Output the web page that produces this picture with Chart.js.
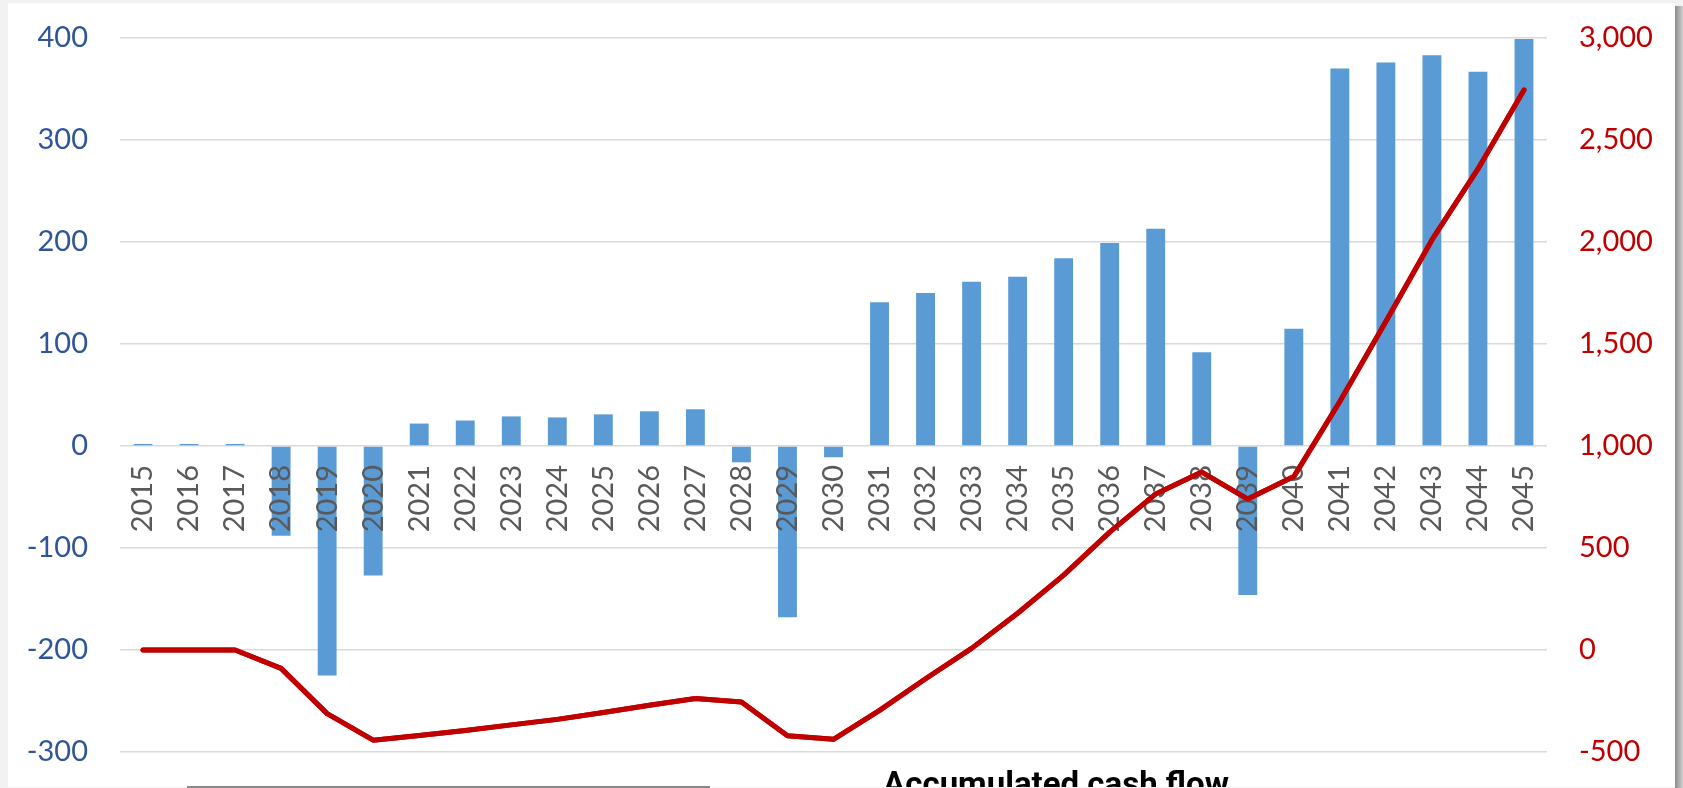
<!DOCTYPE html>
<html>
<head>
<meta charset="utf-8">
<script src="https://cdn.jsdelivr.net/npm/chart.js@4.4.1/dist/chart.umd.min.js"></script>
<style>
  html, body { margin: 0; padding: 0; background: #f2f2f2; width: 1683px; height: 788px; overflow: hidden; }
  #wrap { position: absolute; left: 8px; top: 3px; width: 1667px; height: 784px; background: #fff; }
  #shade { position: absolute; left: 1675px; top: 6px; width: 8px; height: 782px;
           background: linear-gradient(to right, #8c8c8c, #d0d0d0); }
  #baseline { position: absolute; left: 187px; top: 786px; width: 523px; height: 2px; background: #8a8a8a; }
</style>
</head>
<body>
<div id="wrap"><canvas id="grafico"></canvas></div>
<div id="shade"></div>
<div id="baseline"></div>
<script>
// anos
const anos = ['2015','2016','2017','2018','2019','2020','2021','2022','2023','2024',
              '2025','2026','2027','2028','2029','2030','2031','2032','2033','2034',
              '2035','2036','2037','2038','2039','2040','2041','2042','2043','2044','2045'];

// fluxo de caixa anual (eixo esquerdo)
const fluxoAnual = [2, 2, 2, -88, -225, -127, 22, 25, 29, 28,
                    31, 34, 36, -16, -168, -11, 141, 150, 161, 166,
                    184, 199, 213, 92, -146, 115, 370, 376, 383, 367, 399];

// fluxo acumulado (eixo direito)
const fluxoAcumulado = [0, 0, 0, -90, -312, -442, -419, -395, -367, -340,
                        -306, -271, -238, -255, -420, -438, -296, -141, 8, 180,
                        367, 578, 765, 872, 740, 850, 1218, 1610, 2010, 2358, 2745];

const ticksEsquerda = { min: -300, max: 400, passo: 100 };
const ticksDireita = { min: -500, max: 3000, passo: 500 };

const fonte = 'Lato';

// redesenha a linha por cima dos rótulos do eixo x e escreve o título cortado embaixo
const extras = {
    id: 'extras',
    afterDraw(chart) {
        chart.getDatasetMeta(1).controller.draw();

        const ctx = chart.ctx;
        ctx.save();
        ctx.font = 'bold 33px Roboto';
        ctx.fillStyle = '#000';
        ctx.textAlign = 'center';
        ctx.textBaseline = 'alphabetic';
        ctx.fillText('Accumulated cash flow', 1048, 792);
        ctx.restore();
    }
};

// largura fixa dos eixos y, sem o espaço extra em cima/embaixo
function ajustaEixo(largura) {
    return function (scale) {
        scale.width = largura;
        scale.paddingTop = 0;
        scale.paddingBottom = 0;
    };
}

const ctx = document.getElementById('grafico').getContext('2d');
new Chart(ctx, {
    type: 'bar',
    data: {
        labels: anos,
        datasets: [
            {
                type: 'bar',
                label: 'Cash flow',
                data: fluxoAnual,
                backgroundColor: '#5B9BD5',
                yAxisID: 'y',
                categoryPercentage: 1,
                barPercentage: 0.41,
                order: 1
            },
            {
                type: 'line',
                label: 'Accumulated cash flow',
                data: fluxoAcumulado,
                borderColor: '#C00000',
                borderWidth: 5,
                pointRadius: 0,
                tension: 0,
                borderCapStyle: 'round',
                borderJoinStyle: 'round',
                fill: false,
                yAxisID: 'y1',
                order: 0
            }
        ]
    },
    options: {
        responsive: true,
        maintainAspectRatio: false,
        animation: false,
        layout: { padding: { left: 0, right: 0, top: 35, bottom: 35 } },
        plugins: {
            legend: { display: false },
            tooltip: { enabled: false }
        },
        scales: {
            x: {
                position: { y: 0 },
                grid: { display: false, drawTicks: false },
                border: { display: false },
                ticks: {
                    z: 1,
                    autoSkip: false,
                    minRotation: 90,
                    maxRotation: 90,
                    padding: 19,
                    color: '#595959',
                    font: { family: fonte, size: 29 }
                }
            },
            y: {
                position: 'left',
                min: ticksEsquerda.min,
                max: ticksEsquerda.max,
                grid: { color: '#d9d9d9', lineWidth: 1.5, drawTicks: false },
                border: { display: false },
                ticks: {
                    stepSize: ticksEsquerda.passo,
                    padding: 32,
                    color: '#2F5597',
                    font: { family: fonte, size: 29 }
                },
                afterFit: ajustaEixo(112)
            },
            y1: {
                position: 'right',
                min: ticksDireita.min,
                max: ticksDireita.max,
                grid: { display: false, drawTicks: false },
                border: { display: false },
                ticks: {
                    stepSize: ticksDireita.passo,
                    padding: 32,
                    color: '#C00000',
                    font: { family: fonte, size: 29 },
                    callback: v => v.toLocaleString('en-US')
                },
                afterFit: ajustaEixo(128)
            }
        }
    },
    plugins: [extras]
});
</script>
</body>
</html>
